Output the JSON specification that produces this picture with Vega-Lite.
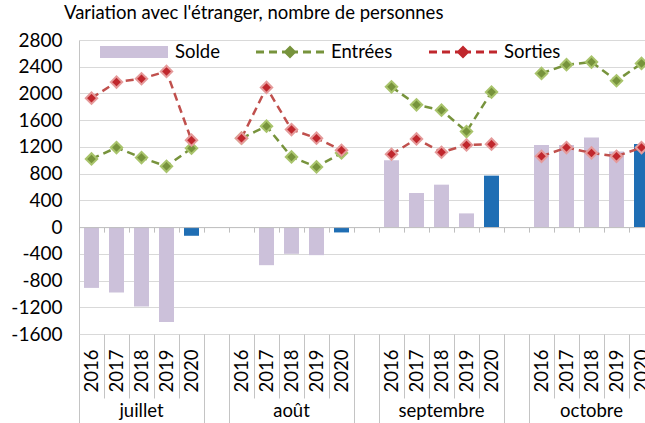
{
  "$schema": "https://vega.github.io/schema/vega-lite/v6.json",
  "usermeta": {"embedOptions": {"actions": false}},
  "autosize": {"type": "none"},
  "padding": {"left": 79, "top": 40, "right": 0, "bottom": 89},
  "width": 566,
  "height": 294,
  "background": "white",
  "config": {
    "font": "Lato",
    "view": {"stroke": null},
    "axis": {"labelFont": "Lato", "labelFontSize": 18.5, "labelColor": "#000000"},
    "axisY": {"labelOverlap": false, "labelFontSize": 19}
  },
  "title": {
    "text": "Variation avec l'étranger, nombre de personnes",
    "anchor": "start",
    "frame": "group",
    "font": "Lato",
    "fontSize": 18.5,
    "fontWeight": "normal",
    "color": "#000000",
    "dx": -15,
    "dy": 6,
    "offset": 0,
    "baseline": "alphabetic"
  },
  "data": {
    "values": [
      {"mois": "juillet", "annee": 2016, "serie": "Solde", "valeur": -910},
      {"mois": "juillet", "annee": 2017, "serie": "Solde", "valeur": -980},
      {"mois": "juillet", "annee": 2018, "serie": "Solde", "valeur": -1190},
      {"mois": "juillet", "annee": 2019, "serie": "Solde", "valeur": -1420},
      {"mois": "juillet", "annee": 2020, "serie": "Solde", "valeur": -130},
      {"mois": "août", "annee": 2016, "serie": "Solde", "valeur": 0},
      {"mois": "août", "annee": 2017, "serie": "Solde", "valeur": -570},
      {"mois": "août", "annee": 2018, "serie": "Solde", "valeur": -400},
      {"mois": "août", "annee": 2019, "serie": "Solde", "valeur": -420},
      {"mois": "août", "annee": 2020, "serie": "Solde", "valeur": -80},
      {"mois": "septembre", "annee": 2016, "serie": "Solde", "valeur": 1000},
      {"mois": "septembre", "annee": 2017, "serie": "Solde", "valeur": 510},
      {"mois": "septembre", "annee": 2018, "serie": "Solde", "valeur": 635},
      {"mois": "septembre", "annee": 2019, "serie": "Solde", "valeur": 205},
      {"mois": "septembre", "annee": 2020, "serie": "Solde", "valeur": 770},
      {"mois": "octobre", "annee": 2016, "serie": "Solde", "valeur": 1230},
      {"mois": "octobre", "annee": 2017, "serie": "Solde", "valeur": 1230},
      {"mois": "octobre", "annee": 2018, "serie": "Solde", "valeur": 1340},
      {"mois": "octobre", "annee": 2019, "serie": "Solde", "valeur": 1130},
      {"mois": "octobre", "annee": 2020, "serie": "Solde", "valeur": 1245},
      {"mois": "juillet", "annee": 2016, "serie": "Entrées", "valeur": 1020},
      {"mois": "juillet", "annee": 2017, "serie": "Entrées", "valeur": 1190},
      {"mois": "juillet", "annee": 2018, "serie": "Entrées", "valeur": 1040},
      {"mois": "juillet", "annee": 2019, "serie": "Entrées", "valeur": 910},
      {"mois": "juillet", "annee": 2020, "serie": "Entrées", "valeur": 1180},
      {"mois": "août", "annee": 2016, "serie": "Entrées", "valeur": 1330},
      {"mois": "août", "annee": 2017, "serie": "Entrées", "valeur": 1510},
      {"mois": "août", "annee": 2018, "serie": "Entrées", "valeur": 1050},
      {"mois": "août", "annee": 2019, "serie": "Entrées", "valeur": 900},
      {"mois": "août", "annee": 2020, "serie": "Entrées", "valeur": 1110},
      {"mois": "septembre", "annee": 2016, "serie": "Entrées", "valeur": 2100},
      {"mois": "septembre", "annee": 2017, "serie": "Entrées", "valeur": 1830},
      {"mois": "septembre", "annee": 2018, "serie": "Entrées", "valeur": 1750},
      {"mois": "septembre", "annee": 2019, "serie": "Entrées", "valeur": 1430},
      {"mois": "septembre", "annee": 2020, "serie": "Entrées", "valeur": 2020},
      {"mois": "octobre", "annee": 2016, "serie": "Entrées", "valeur": 2300},
      {"mois": "octobre", "annee": 2017, "serie": "Entrées", "valeur": 2430},
      {"mois": "octobre", "annee": 2018, "serie": "Entrées", "valeur": 2470},
      {"mois": "octobre", "annee": 2019, "serie": "Entrées", "valeur": 2190},
      {"mois": "octobre", "annee": 2020, "serie": "Entrées", "valeur": 2450},
      {"mois": "juillet", "annee": 2016, "serie": "Sorties", "valeur": 1930},
      {"mois": "juillet", "annee": 2017, "serie": "Sorties", "valeur": 2170},
      {"mois": "juillet", "annee": 2018, "serie": "Sorties", "valeur": 2220},
      {"mois": "juillet", "annee": 2019, "serie": "Sorties", "valeur": 2330},
      {"mois": "juillet", "annee": 2020, "serie": "Sorties", "valeur": 1300},
      {"mois": "août", "annee": 2016, "serie": "Sorties", "valeur": 1330},
      {"mois": "août", "annee": 2017, "serie": "Sorties", "valeur": 2090},
      {"mois": "août", "annee": 2018, "serie": "Sorties", "valeur": 1460},
      {"mois": "août", "annee": 2019, "serie": "Sorties", "valeur": 1330},
      {"mois": "août", "annee": 2020, "serie": "Sorties", "valeur": 1150},
      {"mois": "septembre", "annee": 2016, "serie": "Sorties", "valeur": 1090},
      {"mois": "septembre", "annee": 2017, "serie": "Sorties", "valeur": 1320},
      {"mois": "septembre", "annee": 2018, "serie": "Sorties", "valeur": 1120},
      {"mois": "septembre", "annee": 2019, "serie": "Sorties", "valeur": 1230},
      {"mois": "septembre", "annee": 2020, "serie": "Sorties", "valeur": 1240},
      {"mois": "octobre", "annee": 2016, "serie": "Sorties", "valeur": 1060},
      {"mois": "octobre", "annee": 2017, "serie": "Sorties", "valeur": 1190},
      {"mois": "octobre", "annee": 2018, "serie": "Sorties", "valeur": 1110},
      {"mois": "octobre", "annee": 2019, "serie": "Sorties", "valeur": 1060},
      {"mois": "octobre", "annee": 2020, "serie": "Sorties", "valeur": 1190}
    ]
  },
  "transform": [{"calculate": "datum.mois + ' ' + datum.annee", "as": "cle"}],
  "layer": [
    {
      "transform": [{"filter": "datum.serie == 'Solde'"}],
      "mark": {"type": "bar", "width": {"band": 0.6}, "clip": true},
      "encoding": {
        "x": {
          "field": "cle",
          "type": "nominal",
          "sort": null,
          "scale": {
            "domain": ["juillet 2016", "juillet 2017", "juillet 2018", "juillet 2019", "juillet 2020", "g1",
                       "août 2016", "août 2017", "août 2018", "août 2019", "août 2020", "g2",
                       "septembre 2016", "septembre 2017", "septembre 2018", "septembre 2019", "septembre 2020", "g3",
                       "octobre 2016", "octobre 2017", "octobre 2018", "octobre 2019", "octobre 2020"],
            "range": [0, 575],
            "paddingInner": 0,
            "paddingOuter": 0
          },
          "axis": {
            "orient": "bottom",
            "title": null,
            "labelExpr": "length(split(datum.value, ' ')) > 1 ? split(datum.value, ' ')[1] : ''",
            "labelAngle": -90,
            "labelPadding": -49,
            "labelOverlap": false,
            "ticks": true,
            "tickSize": 64,
            "tickColor": "#C4C4C4",
            "bandPosition": 0,
            "tickExtra": false,
            "domain": false,
            "grid": false
          }
        },
        "y": {
          "field": "valeur",
          "type": "quantitative",
          "scale": {"domain": [-1600, 2800], "nice": false, "zero": false},
          "axis": {
            "orient": "left",
            "title": null,
            "values": [-1600, -1200, -800, -400, 0, 400, 800, 1200, 1600, 2000, 2400, 2800],
            "labelExpr": "(datum.value / 800) % 1 == 0 ? '' + datum.value : ''",
            "labelOverlap": false,
            "labelFontSize": 19,
            "grid": true,
            "gridColor": "#D9D9D9",
            "domain": true,
            "domainColor": "#C4C4C4",
            "ticks": false,
            "labelPadding": 17
          }
        },
        "color": {"condition": {"test": "datum.annee == 2020", "value": "#1F6EB4"}, "value": "#CCC1DA"}
      }
    },
    {
      "transform": [{"filter": "datum.serie == 'Entrées'"}],
      "mark": {"type": "line", "color": "#77933C", "strokeDash": [8, 5], "strokeWidth": 2.5, "clip": true},
      "encoding": {
        "x": {
          "field": "cle",
          "type": "nominal",
          "axis": {
            "orient": "bottom",
            "title": null,
            "values": ["juillet 2016", "g1", "août 2016", "g2", "septembre 2016", "g3", "octobre 2016"],
            "labels": false,
            "ticks": true,
            "tickSize": 89,
            "tickColor": "#C4C4C4",
            "bandPosition": 0,
            "tickExtra": false,
            "domain": false,
            "grid": false
          }
        },
        "y": {
          "field": "valeur",
          "type": "quantitative",
          "axis": {
            "orient": "left",
            "title": null,
            "values": [-1200, -400, 400, 1200, 2000, 2800],
            "labelExpr": "'' + datum.value",
            "labelOverlap": false,
            "labelFontSize": 19,
            "grid": false,
            "domain": false,
            "ticks": false,
            "labelPadding": 17
          }
        },
        "detail": {"field": "mois"}
      }
    },
    {
      "transform": [{"filter": "datum.serie == 'Sorties'"}],
      "mark": {"type": "line", "color": "#C0504D", "strokeDash": [8, 5], "strokeWidth": 2.5, "clip": true},
      "encoding": {
        "x": {
          "field": "cle",
          "type": "nominal",
          "axis": {
            "orient": "bottom",
            "title": null,
            "offset": -106.9,
            "labels": false,
            "ticks": true,
            "tickSize": 5,
            "tickColor": "#BFBFBF",
            "bandPosition": 0,
            "tickExtra": false,
            "domain": true,
            "domainColor": "#BFBFBF",
            "grid": false,
            "zindex": 1
          }
        },
        "y": {"field": "valeur", "type": "quantitative", "axis": null},
        "detail": {"field": "mois"}
      }
    },
    {
      "transform": [{"filter": "datum.serie != 'Solde'"}],
      "mark": {"type": "point", "shape": "diamond", "filled": true, "size": 130, "strokeWidth": 2, "opacity": 1, "clip": true},
      "encoding": {
        "x": {
          "field": "cle",
          "type": "nominal",
          "axis": {
            "orient": "bottom",
            "title": null,
            "values": ["juillet 2018", "août 2018", "septembre 2018", "octobre 2018"],
            "labelExpr": "split(datum.value, ' ')[0]",
            "labelAngle": 0,
            "ticks": false,
            "tickSize": 0,
            "labelPadding": 67,
            "domain": false,
            "grid": false
          }
        },
        "y": {"field": "valeur", "type": "quantitative", "axis": null},
        "fill": {"condition": {"test": "datum.serie == 'Entrées'", "value": "#77933C"}, "value": "#C0272D"},
        "stroke": {"condition": {"test": "datum.serie == 'Entrées'", "value": "#A9C46C"}, "value": "#E59A9A"}
      }
    },
    {
      "mark": {"type": "point", "filled": true, "opacity": 0, "clip": true},
      "encoding": {
        "x": {"field": "cle", "type": "nominal", "axis": null},
        "y": {"field": "valeur", "type": "quantitative", "axis": null},
        "fill": {
          "field": "serie",
          "type": "nominal",
          "scale": {"domain": ["Solde", "Entrées", "Sorties"], "range": ["#CCC1DA", "#77933C", "#C0272D"]},
          "legend": {
            "orient": "none",
            "legendX": 45,
            "legendY": 2,
            "direction": "horizontal",
            "columns": 3,
            "title": null,
            "padding": 0,
            "symbolSize": 400,
            "symbolStrokeWidth": 0,
            "symbolOpacity": 1,
            "labelFont": "Lato",
            "labelFontSize": 18.5,
            "labelColor": "#000000",
            "labelOffset": 31,
            "columnPadding": 36,
            "gridAlign": "none"
          }
        },
        "shape": {
          "field": "serie",
          "type": "nominal",
          "scale": {
            "domain": ["Solde", "Entrées", "Sorties"],
            "range": [
              "M-3.4,-0.6H3.4V0.6H-3.4Z",
              "M-3.4,-0.14H-2.6V0.14H-3.4Z M-2.1,-0.14H-1.3V0.14H-2.1Z M-0.8,-0.14H0.8V0.14H-0.8Z M1.3,-0.14H2.1V0.14H1.3Z M2.6,-0.14H3.4V0.14H2.6Z M0,-0.65L0.65,0L0,0.65L-0.65,0Z",
              "M-3.4,-0.14H-2.6V0.14H-3.4Z M-2.1,-0.14H-1.3V0.14H-2.1Z M-0.8,-0.14H0.8V0.14H-0.8Z M1.3,-0.14H2.1V0.14H1.3Z M2.6,-0.14H3.4V0.14H2.6Z M0,-0.65L0.65,0L0,0.65L-0.65,0Z"
            ]
          },
          "legend": {
            "orient": "none",
            "legendX": 45,
            "legendY": 2,
            "direction": "horizontal",
            "columns": 3,
            "title": null,
            "padding": 0,
            "symbolSize": 400,
            "symbolStrokeWidth": 0,
            "symbolOpacity": 1,
            "labelFont": "Lato",
            "labelFontSize": 18.5,
            "labelColor": "#000000",
            "labelOffset": 31,
            "columnPadding": 36,
            "gridAlign": "none"
          }
        }
      }
    }
  ],
  "resolve": {"axis": {"x": "independent", "y": "independent"}}
}
